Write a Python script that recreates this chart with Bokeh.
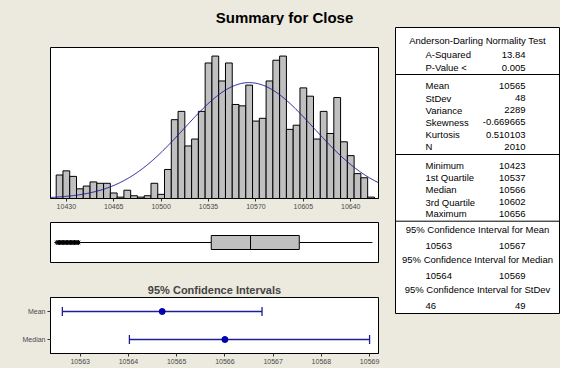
from bokeh.plotting import figure
from bokeh.models import Range1d, FixedTicker, FactorRange, BasicTickFormatter
from bokeh.layouts import column, row
from bokeh.embed import file_html
from bokeh.resources import INLINE
from bokeh.core.properties import value
import numpy as np

# ---------------- data ----------------
bin_centers = [10425, 10430, 10435, 10440, 10445, 10450, 10455, 10460, 10465, 10470,
               10475, 10480, 10485, 10490, 10495, 10500, 10505, 10510, 10515, 10520,
               10525, 10530, 10535, 10540, 10545, 10550, 10555, 10560, 10565, 10570,
               10575, 10580, 10585, 10590, 10595, 10600, 10605, 10610, 10615, 10620,
               10625, 10630, 10635, 10640, 10645, 10650, 10655]
counts = [17, 20, 16, 7, 9, 12, 11, 11, 4, 1,
          6, 2, 1, 2, 11, 3, 21, 57, 63, 38,
          43, 63, 98, 103, 85, 98, 68, 67, 82, 56,
          58, 85, 100, 103, 50, 53, 80, 74, 43, 63,
          47, 73, 41, 31, 18, 15, 1]
bin_width = 5
hist_ticks = [10430, 10465, 10500, 10535, 10570, 10605, 10640]

mean_val = 10565.0
stdev_val = 47.84
n_obs = 2010

q1, q_median, q3 = 10537, 10566, 10602
whisker_low, whisker_high = 10440, 10656
outliers = [10423, 10424, 10425, 10426, 10427, 10428, 10429, 10430, 10431,
            10432, 10433, 10434, 10435, 10436, 10437, 10438, 10439]

ci_labels = ["Mean", "Median"]
ci_center = [10564.7, 10566.0]
ci_lower = [10562.63, 10564.02]
ci_upper = [10566.77, 10569.0]
ci_ticks = [10563, 10564, 10565, 10566, 10567, 10568, 10569]

stat_names = ["A-Squared", "P-Value <", "Mean", "StDev", "Variance", "Skewness", "Kurtosis", "N",
              "Minimum", "1st Quartile", "Median", "3rd Quartile", "Maximum", "10563", "10564", "46"]
stat_values = ["13.84", "0.005", "10565", "48", "2289", "-0.669665", "0.510103", "2010",
               "10423", "10537", "10566", "10602", "10656", "10567", "10569", "49"]
headers = ["Anderson-Darling Normality Test", "95% Confidence Interval for Mean",
           "95% Confidence Interval for Median", "95% Confidence Interval for StDev"]

# ---------------- layout constants (page pixels) ----------------
BG = "#ECE9DF"
FONT = value("Liberation Sans")
W, H = 560, 368
TITLE_H = 25
LEFT_W = 393
TAB_L, TAB_R, TAB_T, TAB_B = 395, 559, 27, 313
name_rows_y = [54, 67, 85, 97.7, 109.5, 121.7, 134, 146,
               165, 177, 189.3, 201.7, 213.3, 245, 275, 305]
header_rows_y = [40, 229, 259, 289]
separators_y = [74, 154, 220.7]


def style_axis(ax):
    ax.major_tick_out = 3
    ax.major_tick_in = 0
    ax.minor_tick_out = 0
    ax.minor_tick_in = 0
    ax.major_label_text_font_size = "7px"
    ax.major_label_text_font = "Liberation Sans"
    ax.major_label_text_color = "#4a4a4a"
    ax.major_label_standoff = 2
    ax.axis_line_color = "black"
    ax.major_tick_line_color = "#333333"


def base(width, height, x_range, y_range, **kw):
    p = figure(width=width, height=height, x_range=x_range, y_range=y_range,
               output_backend="svg", toolbar_location=None, **kw)
    p.border_fill_color = BG
    p.background_fill_color = "white"
    p.outline_line_color = "black"
    p.grid.visible = False
    return p


def frame_borders(p, left, right, top, bottom):
    p.min_border_left = left
    p.min_border_right = right
    p.min_border_top = top
    p.min_border_bottom = bottom


# ---------------- title ----------------
tfig = base(W, TITLE_H, Range1d(0, W), Range1d(TITLE_H, 0), x_axis_location=None, y_axis_location=None)
tfig.min_border = 0
tfig.background_fill_color = BG
tfig.outline_line_color = None
tfig.text(x=[284], y=[17], text=["Summary for Close"], text_font=FONT,
          text_font_size="15px", text_font_style="bold", text_align="center",
          text_baseline="middle", text_color="black")

# ---------------- histogram ----------------
hist = base(LEFT_W, 193, Range1d(10418.3, 10660.5), Range1d(0, 109.2), y_axis_location=None)
frame_borders(hist, 50, 15, 22, 20)
hist.vbar(x=bin_centers, width=bin_width, top=counts, bottom=0,
          fill_color="#C0C0C0", line_color="black", line_width=1)
xs = np.linspace(10418.3, 10660.5, 400)
ys = n_obs * bin_width * np.exp(-0.5 * ((xs - mean_val) / stdev_val) ** 2) / (stdev_val * np.sqrt(2 * np.pi))
hist.line(xs, ys, line_color="#1E1E96", line_width=1)
hist.xaxis.ticker = FixedTicker(ticks=hist_ticks)
hist.xaxis.formatter = BasicTickFormatter(use_scientific=False)
style_axis(hist.xaxis[0])

# ---------------- boxplot ----------------
box = base(LEFT_W, 57, Range1d(10418.3, 10660.5), Range1d(0, 1),
           x_axis_location=None, y_axis_location=None)
frame_borders(box, 50, 15, 4, 13)
box.segment(x0=[whisker_low, q3], y0=[0.5, 0.5], x1=[q1, whisker_high], y1=[0.5, 0.5],
            line_color="black", line_width=1)
box.quad(left=[q1], right=[q3], bottom=[0.325], top=[0.675],
         fill_color="#C0C0C0", line_color="black", line_width=1)
box.segment(x0=[q_median], y0=[0.325], x1=[q_median], y1=[0.675], line_color="black", line_width=1)
box.scatter(x=outliers, y=[0.5] * len(outliers), marker="asterisk", size=5,
            line_color="black", line_width=1)

# ---------------- confidence intervals ----------------
ci = base(LEFT_W, 93, Range1d(10562.384, 10569.185), FactorRange(*reversed(ci_labels)))
frame_borders(ci, 50, 15, 22, 15)
ci.title.text = "95% Confidence Intervals"
ci.title.align = "center"
ci.title.text_font = "Liberation Sans"
ci.title.text_font_size = "11px"
ci.title.text_font_style = "bold"
ci.title.standoff = 3
ci.title.offset = 0
ci.segment(x0=ci_lower, y0=ci_labels, x1=ci_upper, y1=ci_labels, line_color="#1E1E96", line_width=1.3)
ci.scatter(x=ci_lower + ci_upper, y=ci_labels + ci_labels, marker="dash", angle=np.pi / 2,
           size=9, line_color="#1E1E96", line_width=1.3)
ci.scatter(x=ci_center, y=ci_labels, marker="circle", size=6, fill_color="#0000C0", line_color="#0000A0")
ci.xaxis.ticker = FixedTicker(ticks=ci_ticks)
ci.xaxis.formatter = BasicTickFormatter(use_scientific=False)
style_axis(ci.xaxis[0])
style_axis(ci.yaxis[0])

# ---------------- statistics table ----------------
tab = base(W - LEFT_W, H - TITLE_H, Range1d(LEFT_W, W), Range1d(H, TITLE_H),
           x_axis_location=None, y_axis_location=None)
tab.min_border = 0
tab.background_fill_color = BG
tab.outline_line_color = None
tab.quad(left=[TAB_L], right=[TAB_R], top=[TAB_T], bottom=[TAB_B],
         fill_color="white", line_color="black", line_width=1)
tab.segment(x0=[TAB_L] * 3, x1=[TAB_R] * 3, y0=separators_y, y1=separators_y, line_color="black", line_width=1)
cx = (TAB_L + TAB_R) / 2
tab.text(x=[cx] * len(headers), y=header_rows_y, text=headers, text_font=FONT, text_font_size="9.5px",
         text_align="center", text_baseline="middle", text_color="black")
tab.text(x=[TAB_L + 30] * len(stat_names), y=name_rows_y, text=stat_names, text_font=FONT,
         text_font_size="9.5px", text_align="left", text_baseline="middle", text_color="black")
tab.text(x=[TAB_R - 34] * len(stat_values), y=name_rows_y, text=stat_values, text_font=FONT,
         text_font_size="9.5px", text_align="right", text_baseline="middle", text_color="black")

layout = column(tfig, row(column(hist, box, ci), tab))
layout.styles = {"background-color": BG}

open("out.html", "w").write(file_html(layout, INLINE))
